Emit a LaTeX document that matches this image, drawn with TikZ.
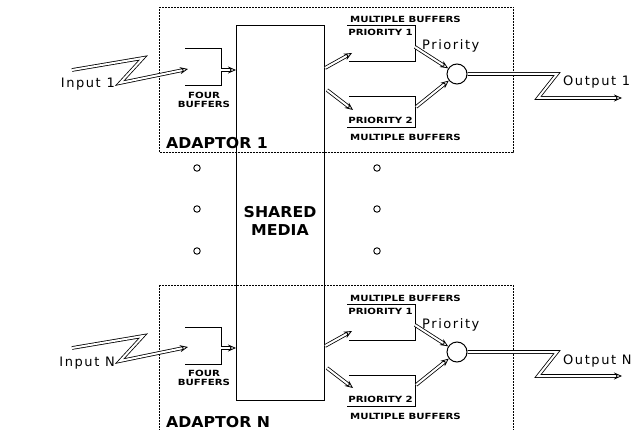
\documentclass[tikz,border=0pt]{standalone}
\usepackage{fontspec}
\setmainfont{DejaVu Sans}
\newfontfamily\capfont[FakeStretch=1.2]{DejaVu Sans}
\newfontfamily\plotfont[LetterSpace=12]{DejaVu Sans}
\newfontfamily\bigfont[FakeStretch=1.05]{DejaVu Sans}
\usetikzlibrary{arrows.meta}
\begin{document}
\begin{tikzpicture}[x=1pt,y=-1pt,
  small/.style={font=\capfont\bfseries\fontsize{8.5}{9.5}\selectfont, inner sep=0},
  plot/.style={font=\plotfont\fontsize{13}{15}\selectfont, inner sep=0},
  big/.style={font=\bigfont\bfseries\fontsize{15}{18}\selectfont, inner sep=0},
  adaptor/.style={draw, dash pattern=on 2pt off 1pt, line width=1pt, inner sep=0},
  hollow/.style={double, double distance=2pt, line width=0.8pt, -{Stealth[open,length=8pt,width=7pt]}},
  dotc/.style={circle, draw, minimum size=6.5pt, inner sep=0, line width=0.9pt},
  line/.style={line width=1pt},
  ]
\useasboundingbox (0,0) rectangle (644,430);
\node[draw, line width=1pt, minimum width=88pt, minimum height=375pt, anchor=north west, inner sep=0] (media) at (236,25) {};
\node[big, align=center] (mlabel) at (280,221) {SHARED\\MEDIA};
\foreach \o/\s in {0/1, 278/N} {
\begin{scope}[yshift={-\o pt}]
  \node[adaptor, minimum width=354pt, minimum height=145pt, anchor=north west] (ad\s) at (159,7) {};
  \node[big, anchor=base west] (adl\s) at (166,149) {ADAPTOR \s};
  % four buffers
  \coordinate (fbt\s) at (185,49);
  \coordinate (fbb\s) at (185,86);
  \draw[line] (fbt\s) -- (221,49) -- (221,86) -- (fbb\s);
  \node[small, align=center] (fbl\s) at (204,100) {FOUR\\BUFFERS};
  \coordinate (fbo\s) at (221,70);
  \draw[hollow] (fbo\s) -- (media.west |- fbo\s);
  % input
  \coordinate (in0\s) at (72,70);
  \coordinate (in1\s) at (143,58);
  \coordinate (in2\s) at (120,83);
  \coordinate (in3\s) at (188,69);
  \draw[hollow] (in0\s) -- (in1\s) -- (in2\s) -- (in3\s);
  \node[plot, anchor=base east] (inl\s) at (115,88) {Input \s};
  % priority buffers
  \draw[line] (347,26) -- (415,26) -- (415,62) -- (349,62);
  \node[small, anchor=base west] (mb1\s) at (350,23) {MULTIPLE BUFFERS};
  \node[small, anchor=base east] (p1\s) at (413,36) {PRIORITY 1};
  \draw[line] (349,97) -- (415,97) -- (415,128) -- (347,128);
  \node[small, anchor=base east] (p2\s) at (413,124) {PRIORITY 2};
  \node[small, anchor=base west] (mb2\s) at (350,141) {MULTIPLE BUFFERS};
  \coordinate (mo1\s) at (325,68);
  \coordinate (mo2\s) at (327,90);
  \coordinate (bi1\s) at (352,53);
  \coordinate (bi2\s) at (353,110);
  \draw[hollow] (mo1\s) -- (bi1\s);
  \draw[hollow] (mo2\s) -- (bi2\s);
  % merge
  \node[circle, draw, line width=1pt, minimum size=20pt, inner sep=0] (mg\s) at (457,74) {};
  \coordinate (bo1\s) at (415,47);
  \coordinate (bo2\s) at (416,107);
  \draw[hollow] (bo1\s) -- (mg\s);
  \draw[hollow] (bo2\s) -- (mg\s);
  \node[plot, anchor=base west] (pr\s) at (422,50) {Priority};
  % output
  \coordinate (o1\s) at (557,74);
  \coordinate (o2\s) at (538,98);
  \coordinate (o3\s) at (622,98);
  \draw[hollow] (mg\s.east) -- (o1\s) -- (o2\s) -- (o3\s);
  \node[plot, anchor=base west] (outl\s) at (563,86) {Output \s};
\end{scope}
}
\foreach \y [count=\i] in {168,209,251} {
  \node[dotc] (dl\i) at (197,\y) {};
  \node[dotc] (dr\i) at (377,\y) {};
}
\end{tikzpicture}
\end{document}
